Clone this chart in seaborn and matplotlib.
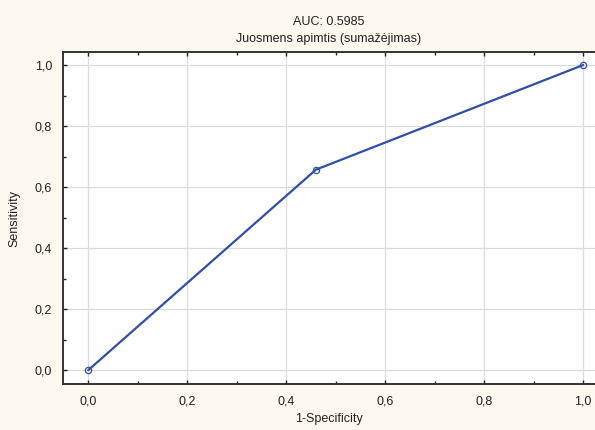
import numpy as np
import pandas as pd
import seaborn as sns
import matplotlib.pyplot as plt
from matplotlib.ticker import MultipleLocator, FuncFormatter

fpr = [0.0, 0.46, 1.0]
tpr = [0.0, 0.657, 1.0]
auc = 0.5985

df = pd.DataFrame({"fpr": fpr, "tpr": tpr})

sns.set_style("whitegrid")
plt.rcParams['font.family'] = ['Liberation Sans', 'DejaVu Sans']

fig = plt.figure(figsize=(5.95, 4.3), dpi=100)
fig.patch.set_facecolor('#fdf8f0')
ax = fig.add_axes([0.106, 0.106, 0.894, 0.774])
ax.set_facecolor('white')

sns.lineplot(data=df, x="fpr", y="tpr", ax=ax, color='#2f4fa8', linewidth=1.6,
             marker='o', markersize=4.5, markerfacecolor='none',
             markeredgecolor='#2f4fa8', markeredgewidth=0.9)

ax.set_xlim(-0.051, 1.024)
ax.set_ylim(-0.047, 1.044)
ax.xaxis.set_major_locator(MultipleLocator(0.2))
ax.yaxis.set_major_locator(MultipleLocator(0.2))
ax.xaxis.set_minor_locator(MultipleLocator(0.1))
ax.yaxis.set_minor_locator(MultipleLocator(0.1))
fmt = FuncFormatter(lambda v, p: f"{v:.1f}".replace('.', ','))
ax.xaxis.set_major_formatter(fmt)
ax.yaxis.set_major_formatter(fmt)

ax.grid(True, which='major', color='#dcdcdc', linewidth=0.9)
ax.grid(False, which='minor')
ax.tick_params(which='both', direction='in', top=True, right=False,
               bottom=True, left=True, color='#222222', labelsize=9,
               labelcolor='#222222')
ax.tick_params(which='major', length=3, width=1, pad=8)
ax.tick_params(which='minor', length=2, width=1)

for side in ['left', 'bottom', 'top']:
    ax.spines[side].set_visible(True)
    ax.spines[side].set_color('#333333')
    ax.spines[side].set_linewidth(1.4)
ax.spines['right'].set_visible(False)

ax.set_xlabel("1-Specificity", fontsize=9, color='#222222', labelpad=4)
ax.set_ylabel("Sensitivity", fontsize=9, color='#222222', labelpad=10)
ax.set_title(f"AUC: {auc}\nJuosmens apimtis (sumažėjimas)", fontsize=9,
             color='#222222', pad=7, linespacing=1.5)

fig.savefig("out.png", dpi=100, facecolor=fig.get_facecolor())
